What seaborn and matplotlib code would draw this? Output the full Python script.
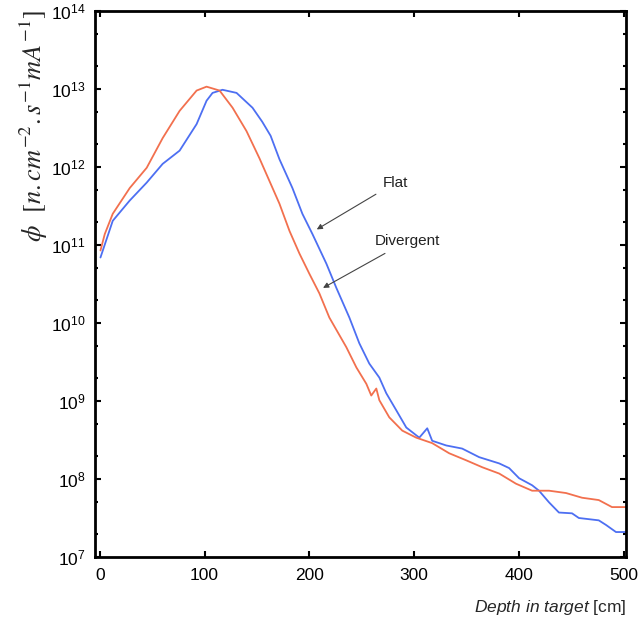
import numpy as np
import pandas as pd
import seaborn as sns
import matplotlib
matplotlib.use("Agg")
import matplotlib.pyplot as plt
from matplotlib.ticker import LogLocator, FixedLocator, FuncFormatter, NullFormatter

# ---- data ----
depth_flat = [0.7, 12.4, 28.6, 44.8, 60, 76.2, 92.4, 101.9, 107.6, 117.1, 130.5, 145.7,
              155.0, 163.0, 171.4, 183.8, 193.3, 202.9, 216.2, 225.7, 238.1, 247.6, 257.1,
              266.7, 273.3, 282.9, 292.4, 304.8, 312.4, 317.1, 330.5, 345.7, 361.9, 381,
              390.5, 400, 412.4, 419, 428.6, 438, 450.5, 457, 476, 483, 492.4, 502]
log10_flux_flat = [10.84, 11.31, 11.57, 11.80, 12.04, 12.21, 12.55, 12.85, 12.95, 12.99, 12.95, 12.76,
                   12.58, 12.40, 12.10, 11.73, 11.40, 11.14, 10.76, 10.45, 10.07, 9.74, 9.48,
                   9.30, 9.10, 8.88, 8.66, 8.53, 8.65, 8.49, 8.43, 8.39, 8.28, 8.20,
                   8.14, 8.01, 7.92, 7.85, 7.70, 7.57, 7.56, 7.50, 7.47, 7.41, 7.32, 7.32]

depth_div = [0.7, 4.8, 12.4, 28.6, 44.8, 60, 76.2, 92.4, 101.9, 114.3, 126.7, 140, 152.4,
             161.9, 171.4, 181, 190.5, 200, 209.5, 219, 235.2, 244.8, 254.3, 259, 263.8,
             266.7, 276.2, 288.6, 301.9, 317.1, 333.3, 349.5, 365, 381, 397, 412.4, 428.6,
             444.8, 460, 476, 488.6, 498, 502]
log10_flux_div = [10.93, 11.14, 11.40, 11.73, 11.99, 12.37, 12.72, 12.98, 13.03, 12.98, 12.76, 12.46, 12.11,
                  11.82, 11.53, 11.18, 10.89, 10.63, 10.38, 10.07, 9.69, 9.43, 9.22, 9.07, 9.16,
                  9.01, 8.79, 8.62, 8.53, 8.46, 8.33, 8.24, 8.15, 8.07, 7.94, 7.85, 7.85,
                  7.82, 7.76, 7.73, 7.64, 7.64, 7.64]

series_names = ["Flat", "Divergent"]
series_colors = {"Flat": "#4D6FF2", "Divergent": "#F2704E"}
x_ticks = [0, 100, 200, 300, 400, 500]
y_decades = [7, 8, 9, 10, 11, 12, 13, 14]

df = pd.concat([
    pd.DataFrame({"depth": depth_flat, "flux": np.power(10.0, log10_flux_flat), "beam": "Flat"}),
    pd.DataFrame({"depth": depth_div, "flux": np.power(10.0, log10_flux_div), "beam": "Divergent"}),
], ignore_index=True)

sns.set_theme(style="ticks")
plt.rcParams["font.family"] = ["Liberation Sans", "DejaVu Sans"]
plt.rcParams["mathtext.fontset"] = "custom"
plt.rcParams["mathtext.rm"] = "Liberation Sans"
plt.rcParams["mathtext.it"] = "Liberation Sans:italic"
plt.rcParams["mathtext.bf"] = "Liberation Sans:bold"

fig = plt.figure(figsize=(6.39, 6.25), dpi=100)
ax = fig.add_axes([0.1487, 0.1088, 0.8310, 0.8736])

sns.lineplot(data=df, x="depth", y="flux", hue="beam", hue_order=series_names,
             palette=series_colors, estimator=None, sort=False, linewidth=1.3,
             legend=False, ax=ax)

ax.set_yscale("log")
ax.set_xlim(-4.5, 502)
ax.set_ylim(1e7, 1e14)

ax.xaxis.set_major_locator(FixedLocator(x_ticks))
ax.yaxis.set_major_locator(FixedLocator([10.0 ** d for d in y_decades]))
ax.yaxis.set_minor_locator(LogLocator(base=10, subs=[2, 5]))
ax.yaxis.set_minor_formatter(NullFormatter())
ax.yaxis.set_major_formatter(FuncFormatter(lambda v, p: r"10$^{%d}$" % round(np.log10(v))))

ax.tick_params(axis="both", which="both", direction="in", top=True, right=True,
               labelsize=12.5, colors="black", width=1.5)
ax.tick_params(axis="both", which="major", length=4, pad=7)
ax.tick_params(axis="y", which="minor", length=2.5)
ax.tick_params(axis="x", which="major", pad=8)

for s in ax.spines.values():
    s.set_linewidth(2.0)
    s.set_color("black")

ax.set_xlabel(r"$\mathit{Depth\ in\ target}$ [cm]", fontsize=12.5, loc="right", labelpad=11)
ax.set_ylabel(r"$\phi\ \ [n{.}cm^{-2}{.}s^{-1}mA^{-1}]$", fontsize=19, math_fontfamily="stix",
              loc="top")
ax.yaxis.set_label_coords(-0.085, 1.003)

ax.annotate("Flat", xy=(207, 10 ** 11.2), xytext=(270, 10 ** 11.8),
            fontsize=11, color="#222222", ha="left", va="center",
            arrowprops=dict(arrowstyle="-|>", color="#444444", lw=0.8,
                            mutation_scale=8, shrinkA=3, shrinkB=0))
ax.annotate("Divergent", xy=(213, 10 ** 10.45), xytext=(262, 10 ** 11.05),
            fontsize=11, color="#222222", ha="left", va="center",
            arrowprops=dict(arrowstyle="-|>", color="#444444", lw=0.8,
                            mutation_scale=8, shrinkA=3, shrinkB=0))

fig.savefig("out.png", dpi=100)
